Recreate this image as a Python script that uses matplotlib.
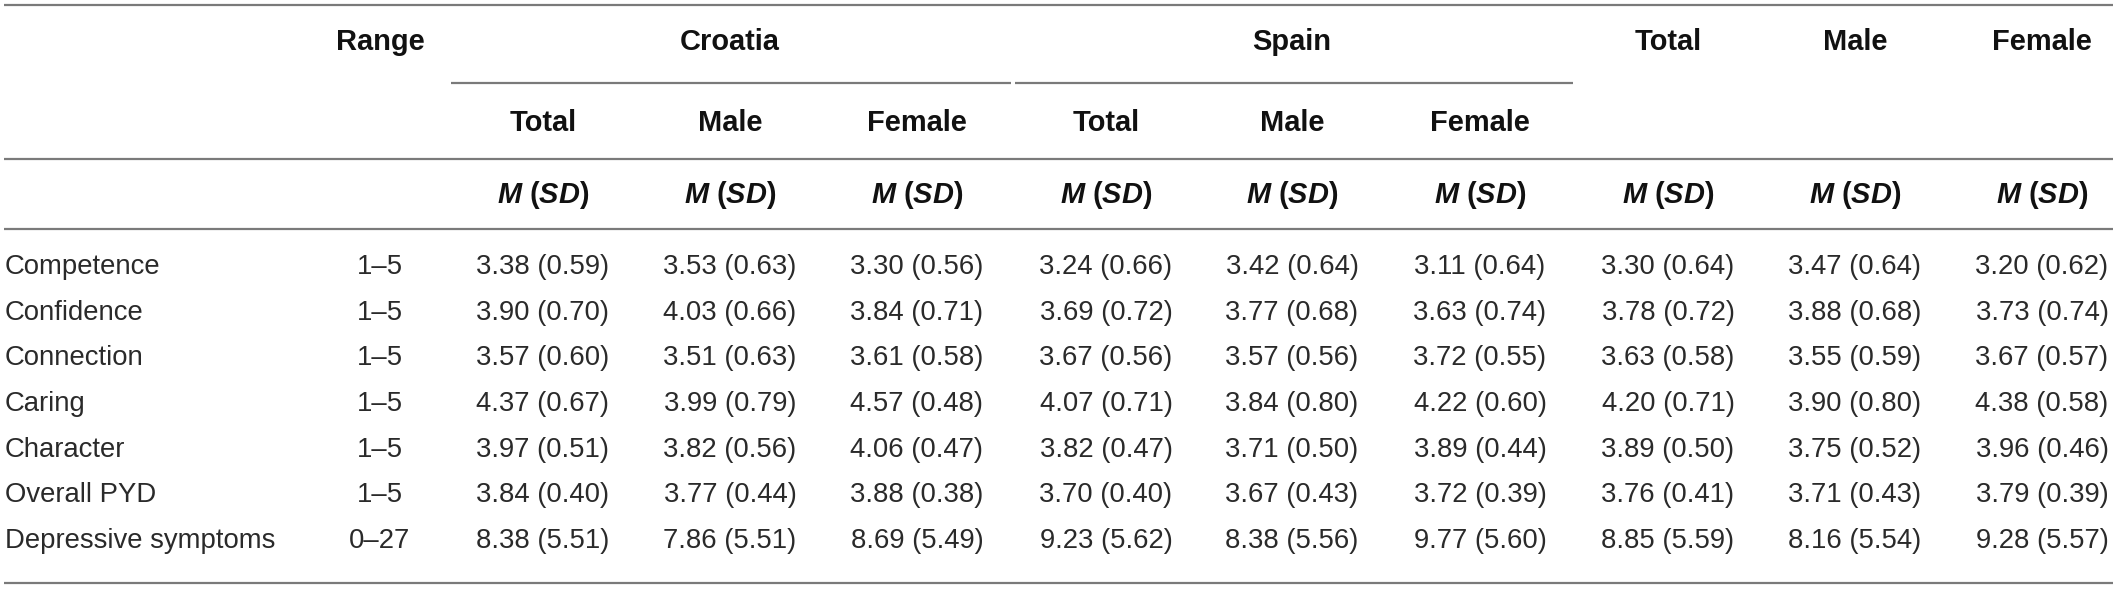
import matplotlib
matplotlib.use("Agg")
import matplotlib.pyplot as plt
from matplotlib import font_manager

# table content
measures = ["Competence", "Confidence", "Connection", "Caring", "Character",
            "Overall PYD", "Depressive symptoms"]
ranges = ["1–5", "1–5", "1–5", "1–5", "1–5", "1–5", "0–27"]
groups = ["Croatia", "Spain"]
sub_cols = ["Total", "Male", "Female"]

means = [
    [3.38, 3.53, 3.30, 3.24, 3.42, 3.11, 3.30, 3.47, 3.20],
    [3.90, 4.03, 3.84, 3.69, 3.77, 3.63, 3.78, 3.88, 3.73],
    [3.57, 3.51, 3.61, 3.67, 3.57, 3.72, 3.63, 3.55, 3.67],
    [4.37, 3.99, 4.57, 4.07, 3.84, 4.22, 4.20, 3.90, 4.38],
    [3.97, 3.82, 4.06, 3.82, 3.71, 3.89, 3.89, 3.75, 3.96],
    [3.84, 3.77, 3.88, 3.70, 3.67, 3.72, 3.76, 3.71, 3.79],
    [8.38, 7.86, 8.69, 9.23, 8.38, 9.77, 8.85, 8.16, 9.28],
]
sds = [
    [0.59, 0.63, 0.56, 0.66, 0.64, 0.64, 0.64, 0.64, 0.62],
    [0.70, 0.66, 0.71, 0.72, 0.68, 0.74, 0.72, 0.68, 0.74],
    [0.60, 0.63, 0.58, 0.56, 0.56, 0.55, 0.58, 0.59, 0.57],
    [0.67, 0.79, 0.48, 0.71, 0.80, 0.60, 0.71, 0.80, 0.58],
    [0.51, 0.56, 0.47, 0.47, 0.50, 0.44, 0.50, 0.52, 0.46],
    [0.40, 0.44, 0.38, 0.40, 0.43, 0.39, 0.41, 0.43, 0.39],
    [5.51, 5.51, 5.49, 5.62, 5.56, 5.60, 5.59, 5.54, 5.57],
]

W, H = 2117, 591
available = {f.name for f in font_manager.fontManager.ttflist}
body_font = "Liberation Sans"
head_font = "Liberation Sans Narrow" if "Liberation Sans Narrow" in available else "Liberation Sans"

plt.rcParams["mathtext.fontset"] = "custom"
plt.rcParams["mathtext.it"] = head_font + ":italic:bold"
plt.rcParams["mathtext.rm"] = head_font + ":bold"

fig = plt.figure(figsize=(W / 100, H / 100), dpi=100)
ax = fig.add_axes([0, 0, 1, 1])
ax.set_axis_off()
ax.set_xlim(0, W)
ax.set_ylim(H, 0)

# layout (pixels)
col_x = [543, 730, 917, 1106, 1292, 1480, 1668, 1855, 2042]
range_x = 380
label_x = 5
y_head1, y_head2, y_msd = 42, 123, 195
row_y0, row_dy = 267, 45.7
line_col = "#7a7a7a"
body_col = "#2a2a2a"
head_size = 29 * 0.72
body_size = 27.5 * 0.72

for y in (5, 159, 229, 583):
    ax.plot([4, W - 4], [y, y], color=line_col, lw=1.6, solid_capstyle="butt")
# group underlines
ax.plot([451, 1011], [83, 83], color=line_col, lw=1.6, solid_capstyle="butt")
ax.plot([1015, 1573], [83, 83], color=line_col, lw=1.6, solid_capstyle="butt")

hkw = dict(family=head_font, fontweight="bold", fontsize=head_size, color="#111111",
           ha="center", va="center")
ax.text(range_x, y_head1, "Range", **hkw)
for g, name in enumerate(groups):
    ax.text(col_x[g * 3 + 1], y_head1, name, **hkw)
    for k, s in enumerate(sub_cols):
        ax.text(col_x[g * 3 + k], y_head2, s, **hkw)
for k, s in enumerate(sub_cols):
    ax.text(col_x[6 + k], y_head1, s, **hkw)
for x in col_x:
    ax.text(x, y_msd, r"$M$ ($SD$)", **hkw)

bkw = dict(family=body_font, fontsize=body_size, color=body_col, va="center")
for i, name in enumerate(measures):
    y = row_y0 + i * row_dy
    ax.text(label_x, y, name, ha="left", **bkw)
    ax.text(range_x, y, ranges[i], ha="center", **bkw)
    for j, x in enumerate(col_x):
        ax.text(x, y, f"{means[i][j]:.2f} ({sds[i][j]:.2f})", ha="center", **bkw)

fig.savefig("out.png", dpi=100)
